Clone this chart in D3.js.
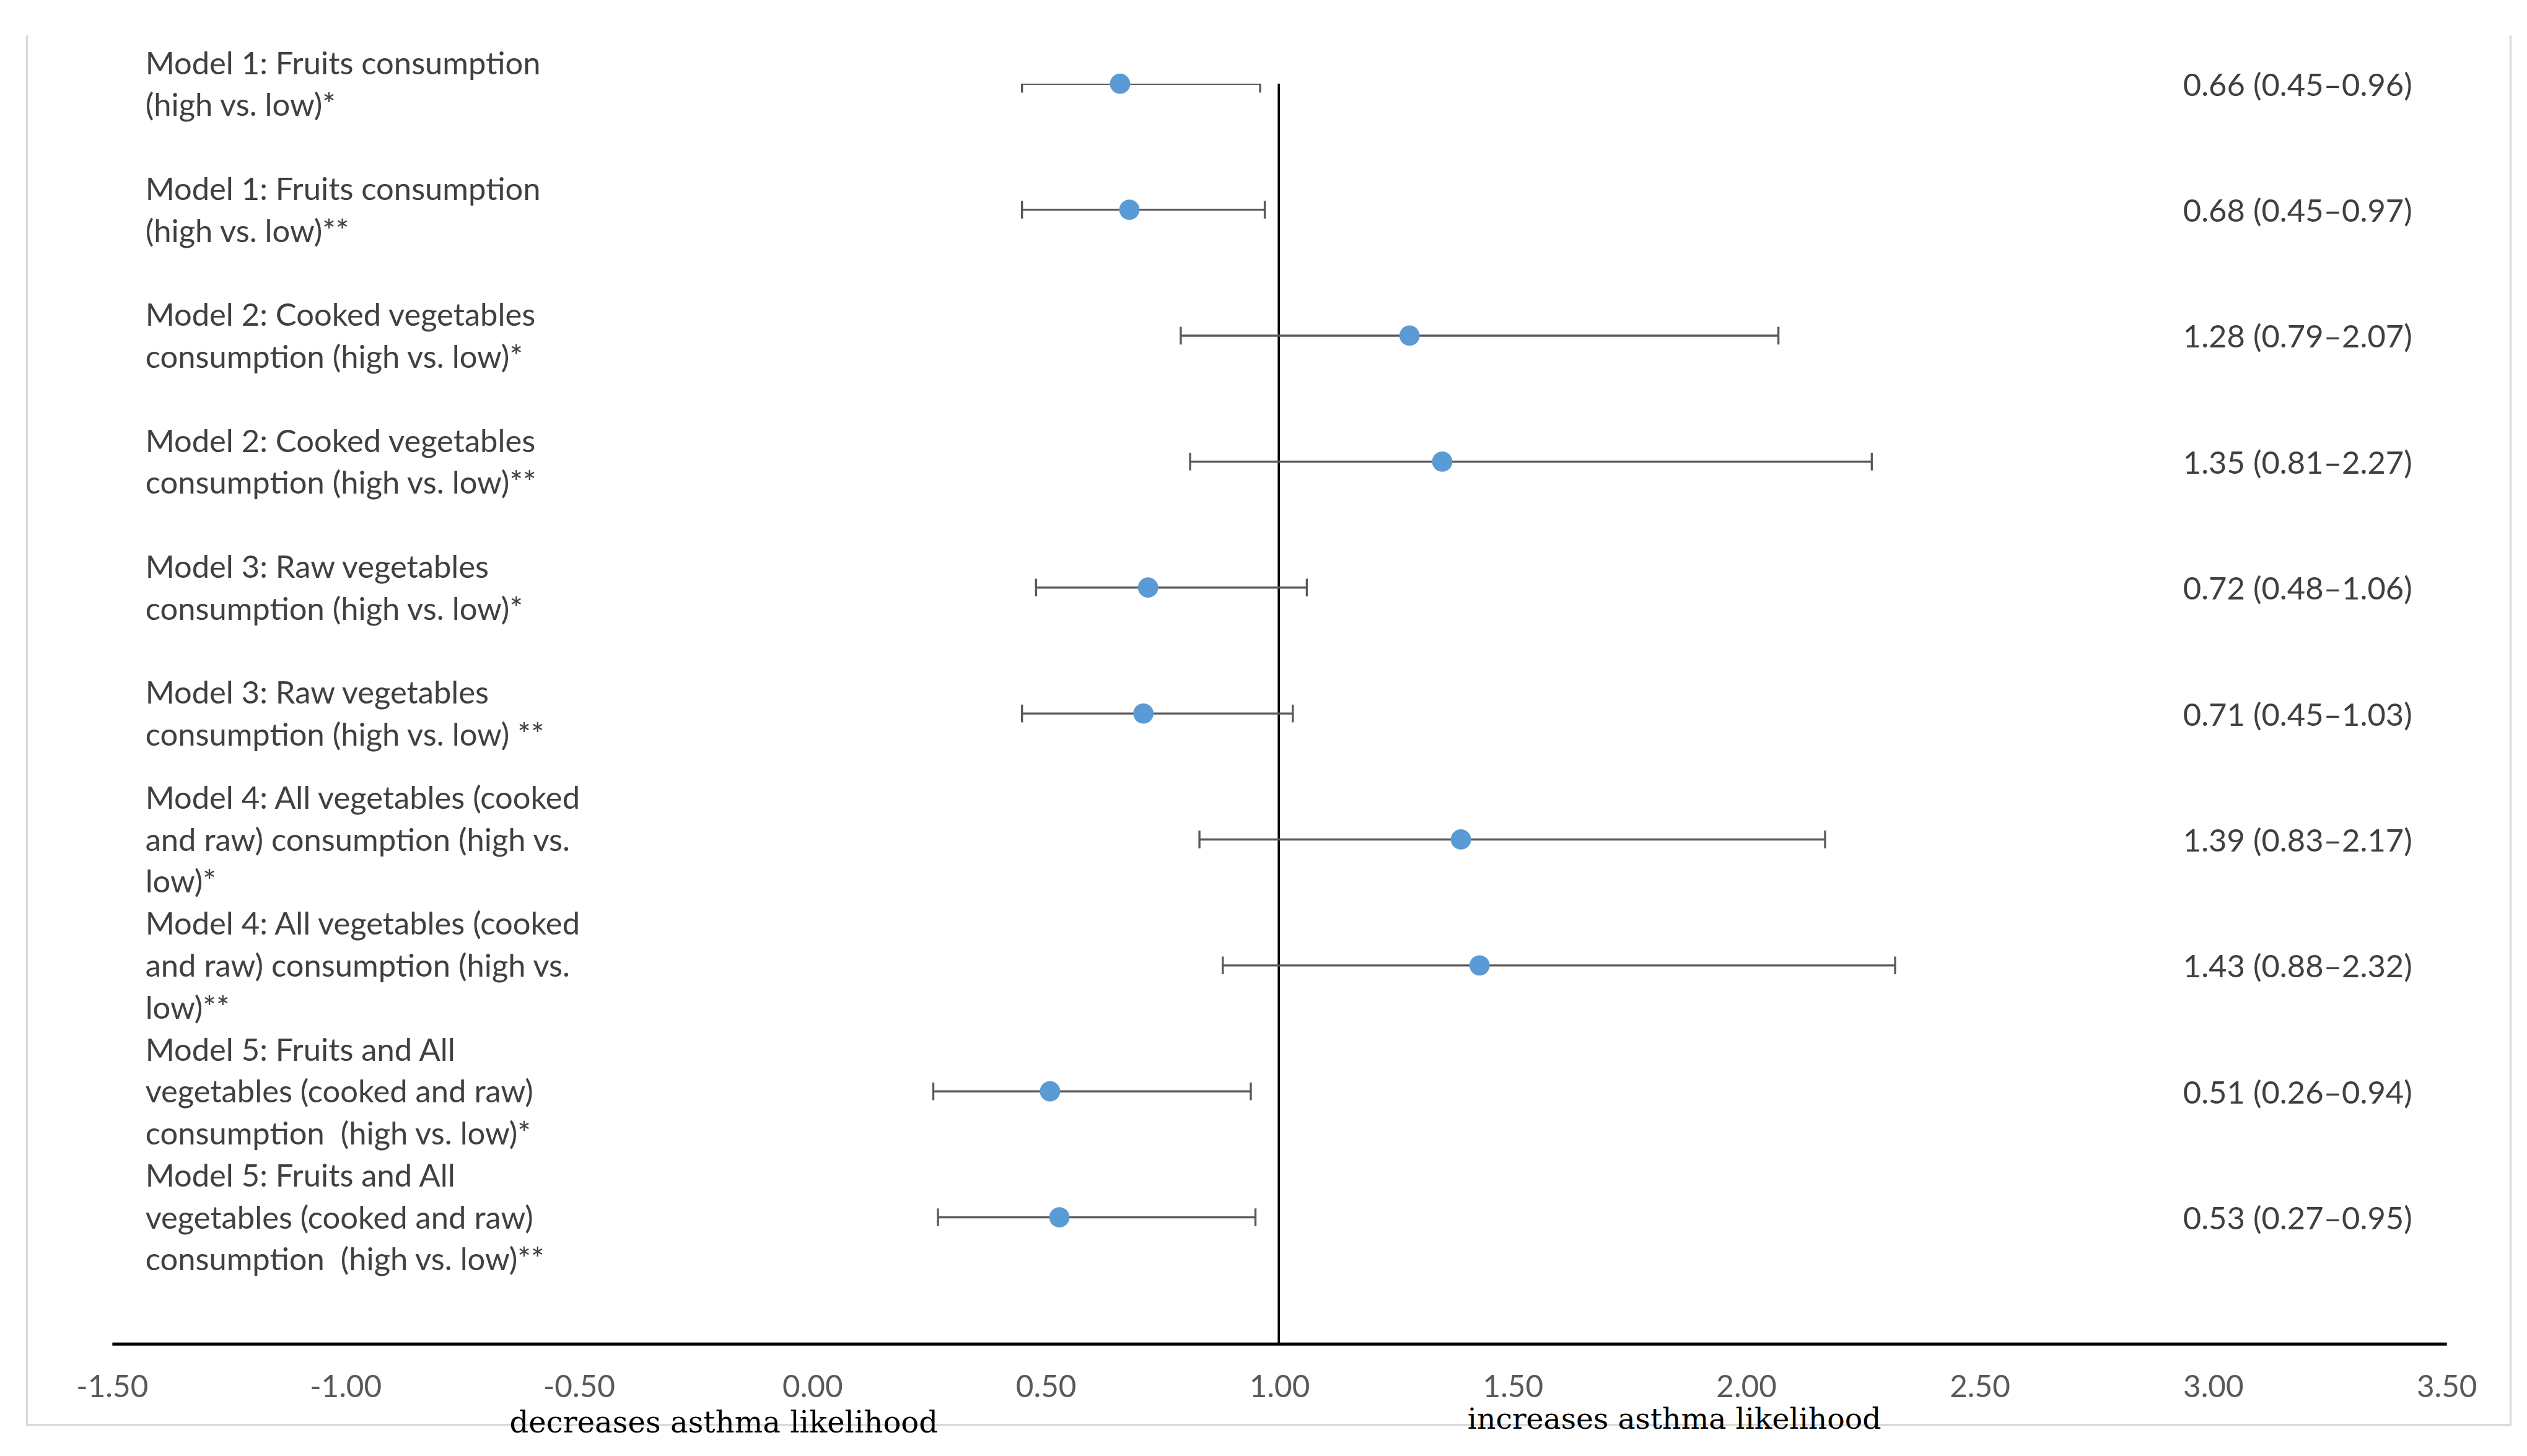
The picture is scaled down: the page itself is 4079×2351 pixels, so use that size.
<!DOCTYPE html>
<html>
<head>
<meta charset="utf-8">
<script src="https://d3js.org/d3.v7.min.js"></script>
<style>
  body { margin: 0; background: #fff; }
  text { white-space: pre; }
</style>
</head>
<body>
<script>

// rows, top to bottom
var labels = [
  ["Model 1: Fruits consumption", "(high vs. low)*"],
  ["Model 1: Fruits consumption", "(high vs. low)**"],
  ["Model 2: Cooked vegetables", "consumption (high vs. low)*"],
  ["Model 2: Cooked vegetables", "consumption (high vs. low)**"],
  ["Model 3: Raw vegetables", "consumption (high vs. low)*"],
  ["Model 3: Raw vegetables", "consumption (high vs. low) **"],
  ["Model 4: All vegetables (cooked", "and raw) consumption (high vs.", "low)*"],
  ["Model 4: All vegetables (cooked", "and raw) consumption (high vs.", "low)**"],
  ["Model 5: Fruits and All", "vegetables (cooked and raw)", "consumption  (high vs. low)*"],
  ["Model 5: Fruits and All", "vegetables (cooked and raw)", "consumption  (high vs. low)**"]
];
var oddsRatio = [0.66, 0.68, 1.28, 1.35, 0.72, 0.71, 1.39, 1.43, 0.51, 0.53];
var ciLow     = [0.45, 0.45, 0.79, 0.81, 0.48, 0.45, 0.83, 0.88, 0.26, 0.27];
var ciHigh    = [0.96, 0.97, 2.07, 2.27, 1.06, 1.03, 2.17, 2.32, 0.94, 0.95];

var xTicks = [-1.5, -1, -0.5, 0, 0.5, 1, 1.5, 2, 2.5, 3, 3.5];
var refValue = 1;
var leftNote = "decreases asthma likelihood";
var rightNote = "increases asthma likelihood";

var rows = labels.map(function(l, i) {
  return { label: l, or: oddsRatio[i], lo: ciLow[i], hi: ciHigh[i], pos: labels.length - i };
});

// drawing in a 1568 x 904 box scaled up to the window
var W = 1568, H = 904;
var svg = d3.select("body").append("svg")
    .attr("width", 4079).attr("height", 2351)
    .attr("viewBox", "0 0 " + W + " " + H)
    .style("display", "block");

var x = d3.scaleLinear().domain([-1.5, 3.5]).range([69, 1518]);
var y = d3.scaleLinear().domain([0, labels.length]).range([834, 52]);
var f2 = d3.format(".2f");
var tickFmt = d => f2(d).replace("\u2212", "-");

// outer frame (top edge is cut off in the original)
svg.append("path")
    .attr("d", "M16.5,22V884.7H1558V22")
    .attr("fill", "none").attr("stroke", "#d9d9d9").attr("stroke-width", 1.3);

svg.append("clipPath").attr("id", "plotClip")
  .append("rect").attr("x", 0).attr("y", y(labels.length))
    .attr("width", W).attr("height", y(0) - y(labels.length));

// reference line at OR = 1
svg.append("line")
    .attr("x1", x(refValue)).attr("x2", x(refValue))
    .attr("y1", y(labels.length)).attr("y2", y(0))
    .attr("stroke", "#000").attr("stroke-width", 1.4);

// x axis (no ticks, just line + labels)
var xAxis = svg.append("g").attr("transform", "translate(0," + y(0) + ")")
    .call(d3.axisBottom(x).tickValues(xTicks).tickFormat(tickFmt).tickSize(0).tickPadding(20));
xAxis.select(".domain").attr("stroke", "#000").attr("stroke-width", 2);
xAxis.selectAll("text")
    .attr("fill", "#595959")
    .style("font-family", "Lato, 'Open Sans', sans-serif")
    .style("font-size", "19px");

// error bars
var bars = svg.append("g").attr("clip-path", "url(#plotClip)")
    .selectAll("g").data(rows).enter().append("g")
    .attr("stroke", "#595959").attr("stroke-width", 1.3);
bars.append("line")
    .attr("x1", d => x(d.lo)).attr("x2", d => x(d.hi))
    .attr("y1", d => y(d.pos)).attr("y2", d => y(d.pos));
bars.append("line")
    .attr("x1", d => x(d.lo)).attr("x2", d => x(d.lo))
    .attr("y1", d => y(d.pos) - 5.5).attr("y2", d => y(d.pos) + 5.5);
bars.append("line")
    .attr("x1", d => x(d.hi)).attr("x2", d => x(d.hi))
    .attr("y1", d => y(d.pos) - 5.5).attr("y2", d => y(d.pos) + 5.5);

// point estimates
svg.append("g").selectAll("circle").data(rows).enter().append("circle")
    .attr("cx", d => x(d.or)).attr("cy", d => y(d.pos)).attr("r", 6.3)
    .attr("fill", "#5b9bd5");

// row labels
var lab = svg.append("g")
    .style("font-family", "Lato, 'Open Sans', sans-serif")
    .style("font-size", "19.5px")
    .attr("fill", "#404040");
lab.selectAll("text.row").data(rows).enter().append("text")
    .attr("class", "row")
    .attr("x", 90)
    .attr("y", d => y(d.pos) + 7 - (d.label.length - 1) * 13)
  .selectAll("tspan").data(d => d.label).enter().append("tspan")
    .attr("x", 90).attr("dy", (t, i) => i === 0 ? 0 : 26)
    .text(t => t);

// estimates on the right
lab.selectAll("text.est").data(rows).enter().append("text")
    .attr("class", "est")
    .attr("x", 1497).attr("text-anchor", "end")
    .attr("y", d => y(d.pos) + 7.5)
    .text(d => f2(d.or) + " (" + f2(d.lo) + "\u2013" + f2(d.hi) + ")");

// direction notes
svg.append("text").attr("x", 449).attr("y", 889.5).attr("text-anchor", "middle")
    .style("font-family", "'DejaVu Serif', 'Liberation Serif', serif")
    .style("font-size", "18.5px").attr("fill", "#000")
    .text(leftNote);
svg.append("text").attr("x", 1039).attr("y", 887).attr("text-anchor", "middle")
    .style("font-family", "'DejaVu Serif', 'Liberation Serif', serif")
    .style("font-size", "18.2px").attr("fill", "#000")
    .text(rightNote);

</script>
</body>
</html>
